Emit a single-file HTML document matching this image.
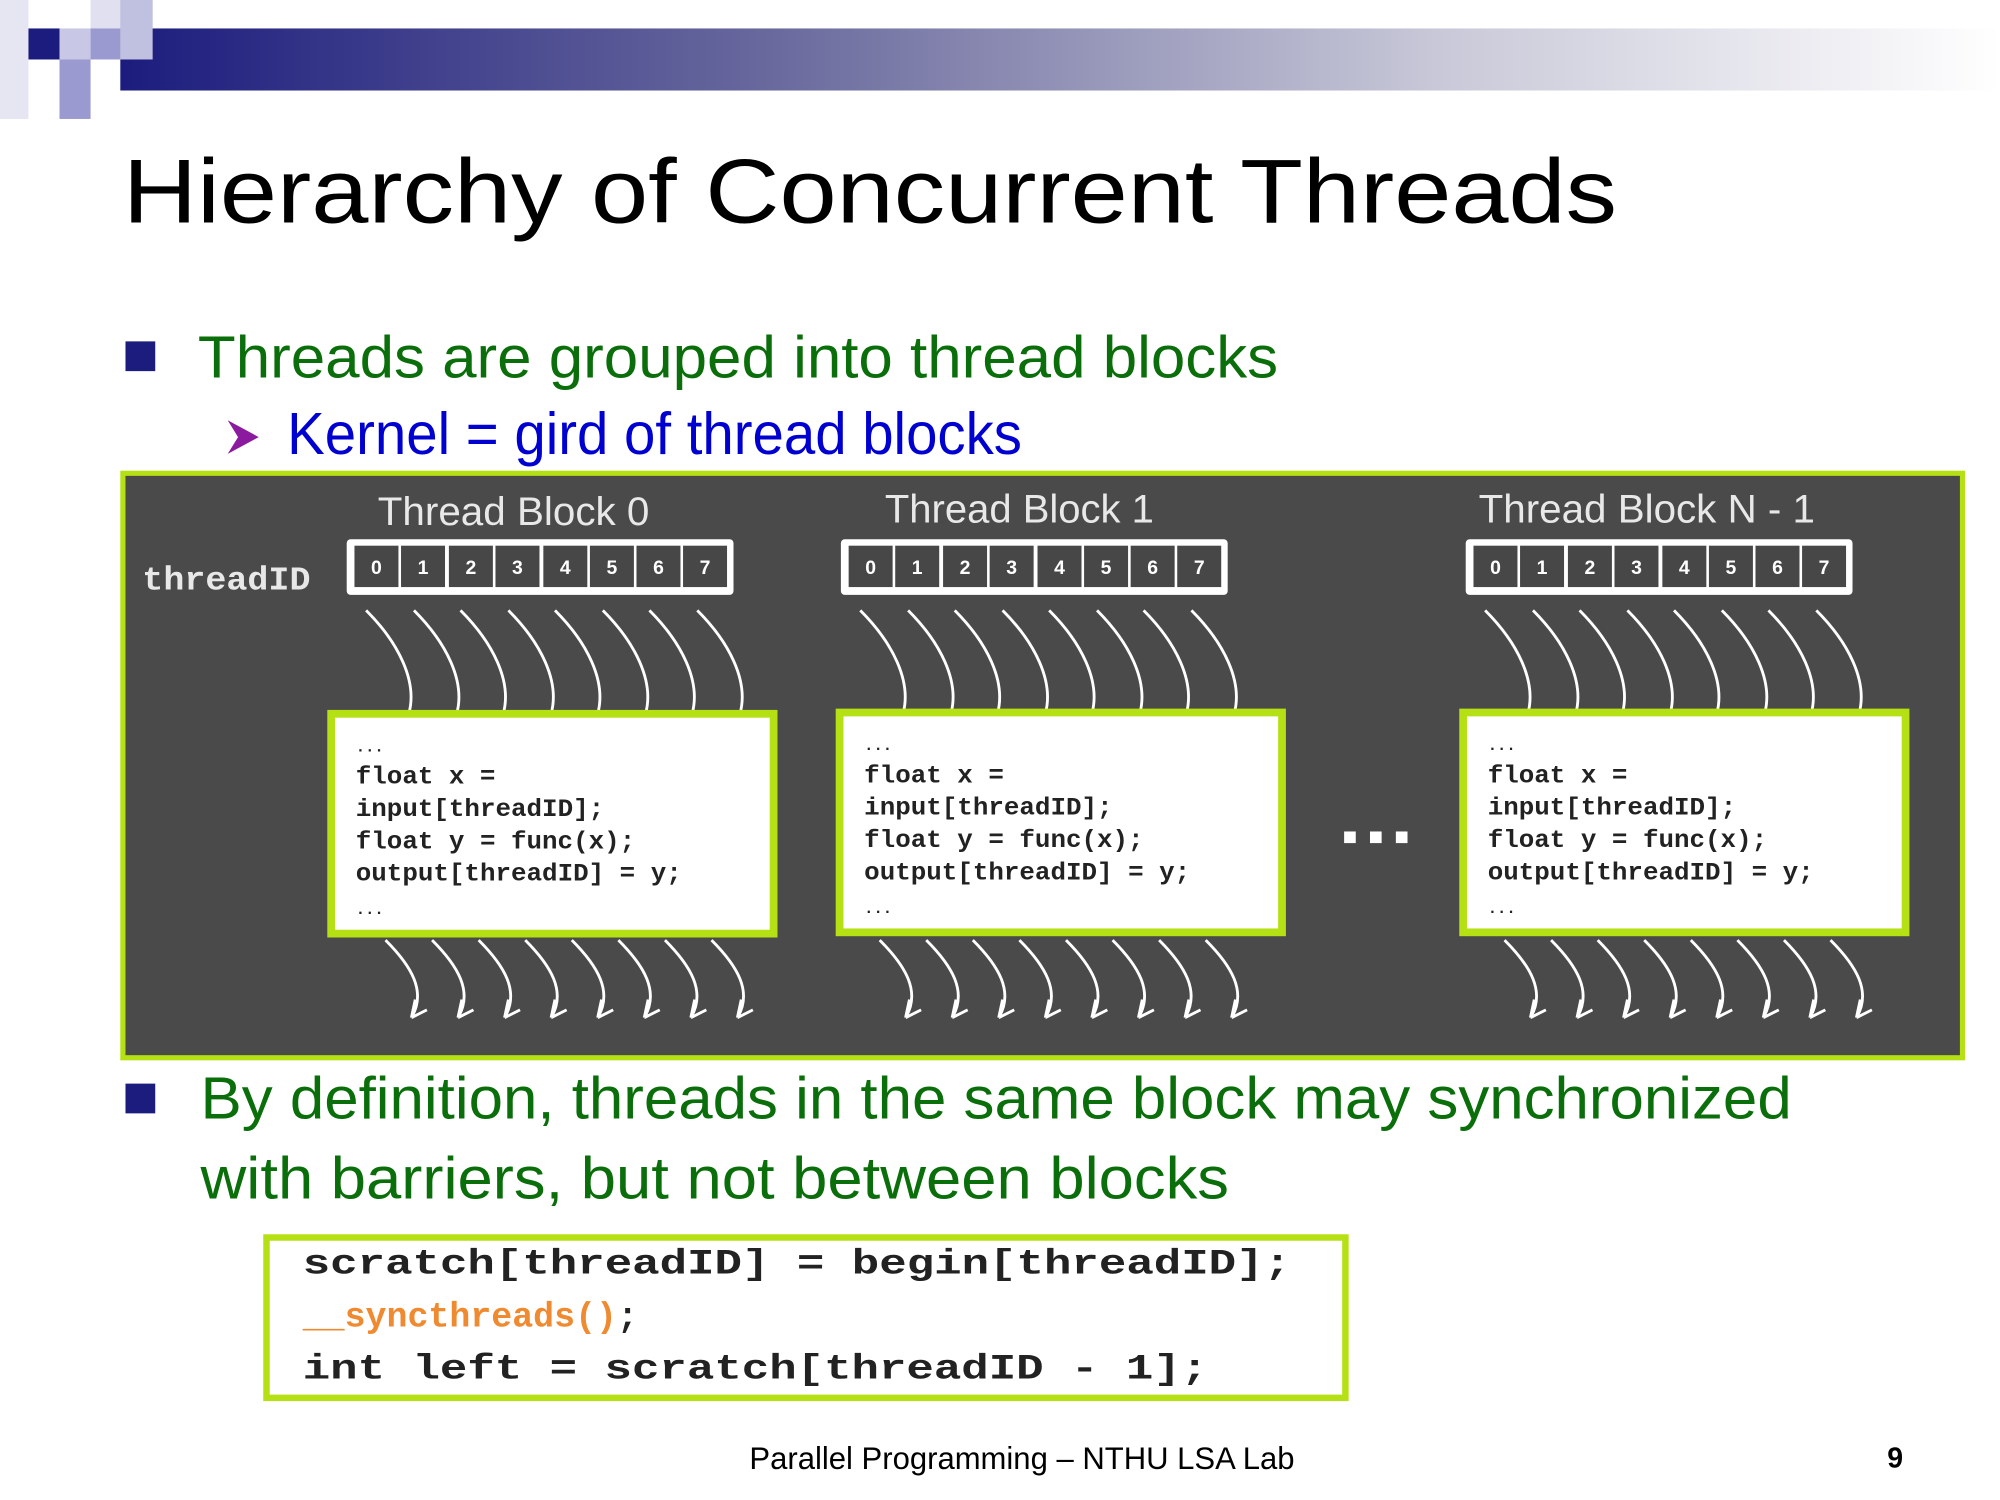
<!DOCTYPE html>
<html><head><meta charset="utf-8"><style>
html,body{margin:0;padding:0;background:#fff;width:2000px;height:1500px;overflow:hidden}
svg{display:block}
</style></head><body>
<svg width="2000" height="1500" viewBox="0 0 1546 1160" preserveAspectRatio="none" xmlns="http://www.w3.org/2000/svg">
<defs>
<linearGradient id="g" x1="0" x2="1" y1="0" y2="0">
<stop offset="0" stop-color="#1c1c7e"/><stop offset="0.35" stop-color="#6a6a9e"/><stop offset="0.7" stop-color="#c8c8d8"/><stop offset="1" stop-color="#ffffff"/>
</linearGradient>
<g id="arr">
<rect x="0" y="0" width="299" height="43" rx="3" fill="#fff"/>
<g font-family="Liberation Sans, sans-serif" font-weight="bold" font-size="15" fill="#fff" text-anchor="middle">
<rect x="6" y="5" width="34" height="32" fill="#474747"/><text x="23" y="27">0</text>
<rect x="42" y="5" width="34" height="32" fill="#474747"/><text x="59" y="27">1</text>
<rect x="79" y="5" width="34" height="32" fill="#474747"/><text x="96" y="27">2</text>
<rect x="115" y="5" width="34" height="32" fill="#474747"/><text x="132" y="27">3</text>
<rect x="152" y="5" width="34" height="32" fill="#474747"/><text x="169" y="27">4</text>
<rect x="188" y="5" width="34" height="32" fill="#474747"/><text x="205" y="27">5</text>
<rect x="224" y="5" width="34" height="32" fill="#474747"/><text x="241" y="27">6</text>
<rect x="260" y="5" width="34" height="32" fill="#474747"/><text x="277" y="27">7</text>
</g>
<g fill="none" stroke="#fff" stroke-width="2.2">
<path d="M15 55 C40 80,55 110,48 135"/>
<path d="M52 55 C77 80,92 110,85 135"/>
<path d="M88 55 C113 80,128 110,121 135"/>
<path d="M125 55 C150 80,165 110,158 135"/>
<path d="M161 55 C186 80,201 110,194 135"/>
<path d="M198 55 C223 80,238 110,231 135"/>
<path d="M234 55 C259 80,274 110,267 135"/>
<path d="M271 55 C296 80,311 110,304 135"/>
</g>
<g fill="none" stroke="#fff" stroke-width="2.2">
<path d="M30 310 C50 330,62 350,50 370 M50 370 l3 -14 M50 370 l12 -6"/>
<path d="M66 310 C86 330,98 350,86 370 M86 370 l3 -14 M86 370 l12 -6"/>
<path d="M102 310 C122 330,134 350,122 370 M122 370 l3 -14 M122 370 l12 -6"/>
<path d="M138 310 C158 330,170 350,158 370 M158 370 l3 -14 M158 370 l12 -6"/>
<path d="M174 310 C194 330,206 350,194 370 M194 370 l3 -14 M194 370 l12 -6"/>
<path d="M210 310 C230 330,242 350,230 370 M230 370 l3 -14 M230 370 l12 -6"/>
<path d="M246 310 C266 330,278 350,266 370 M266 370 l3 -14 M266 370 l12 -6"/>
<path d="M282 310 C302 330,314 350,302 370 M302 370 l3 -14 M302 370 l12 -6"/>
</g>
</g>
<g id="code">
<rect x="3" y="3" width="342" height="170" fill="#fff" stroke="#b4e014" stroke-width="6"/>
<g font-family="Liberation Mono, monospace" font-weight="bold" font-size="19.5" fill="#222">
<text x="22" y="32" font-size="12">...</text>
<text x="22" y="57" textLength="108" lengthAdjust="spacingAndGlyphs">float x =</text>
<text x="22" y="82" textLength="192" lengthAdjust="spacingAndGlyphs">input[threadID];</text>
<text x="22" y="107" textLength="216" lengthAdjust="spacingAndGlyphs">float y = func(x);</text>
<text x="22" y="132" textLength="252" lengthAdjust="spacingAndGlyphs">output[threadID] = y;</text>
<text x="22" y="158" font-size="12">...</text>
</g>
</g>
</defs>
<rect x="0" y="0" width="22" height="92" fill="#e6e6f2"/>
<rect x="70" y="0" width="48" height="22" fill="#e0e0f0"/>
<rect x="93" y="22" width="1453" height="48" fill="url(#g)"/>
<rect x="22" y="22" width="24" height="24" fill="#1c1c7e"/>
<rect x="46" y="22" width="24" height="24" fill="#c8c8e6"/>
<rect x="70" y="22" width="23" height="24" fill="#9a9ad0"/>
<rect x="93" y="0" width="25" height="46" fill="#c0c0e0"/>
<rect x="46" y="46" width="24" height="46" fill="#9a9ad0"/>
<text x="95" y="172" font-family="Liberation Sans, sans-serif" font-size="70" fill="#000" textLength="1155" lengthAdjust="spacingAndGlyphs">Hierarchy of Concurrent Threads</text>
<rect x="97" y="264" width="23" height="23" fill="#1c1c7e"/>
<text x="153" y="292" font-family="Liberation Sans, sans-serif" font-size="46" fill="#0a6e0a" textLength="835" lengthAdjust="spacingAndGlyphs">Threads are grouped into thread blocks</text>
<path d="M176 325 L200 338 L176 351 L184 338 Z" fill="#8b1a9e"/>
<text x="222" y="351" font-family="Liberation Sans, sans-serif" font-size="46" fill="#0000d0" textLength="568" lengthAdjust="spacingAndGlyphs">Kernel = gird of thread blocks</text>
<rect x="95" y="366" width="1422" height="452" fill="#4a4a4a" stroke="#b4e014" stroke-width="4"/>
<g font-family="Liberation Sans, sans-serif" font-size="31" fill="#e8e8e8">
<text x="292" y="406" textLength="210" lengthAdjust="spacingAndGlyphs">Thread Block 0</text>
<text x="684" y="404" textLength="208" lengthAdjust="spacingAndGlyphs">Thread Block 1</text>
<text x="1143" y="404" textLength="260" lengthAdjust="spacingAndGlyphs">Thread Block N - 1</text>
</g>
<text x="110" y="456" font-family="Liberation Mono, monospace" font-weight="bold" font-size="26" fill="#e8e8e8" textLength="130" lengthAdjust="spacingAndGlyphs">threadID</text>
<use href="#arr" x="268" y="417"/>
<use href="#arr" x="650" y="417"/>
<use href="#arr" x="1133" y="417"/>
<use href="#code" x="253" y="549"/>
<use href="#code" x="646" y="548"/>
<use href="#code" x="1128" y="548"/>
<rect x="1039" y="643" width="9" height="9" fill="#fff"/>
<rect x="1059" y="643" width="9" height="9" fill="#fff"/>
<rect x="1079" y="643" width="9" height="9" fill="#fff"/>
<rect x="97" y="838" width="23" height="23" fill="#1c1c7e"/>
<g font-family="Liberation Sans, sans-serif" font-size="46" fill="#0a6e0a">
<text x="155" y="865" textLength="1230" lengthAdjust="spacingAndGlyphs">By definition, threads in the same block may synchronized</text>
<text x="155" y="927" textLength="795" lengthAdjust="spacingAndGlyphs">with barriers, but not between blocks</text>
</g>
<rect x="206" y="957" width="834" height="124" fill="#fff" stroke="#b4e014" stroke-width="5"/>
<g font-family="Liberation Mono, monospace" font-weight="bold" font-size="27" fill="#222">
<text x="234" y="985" textLength="764" lengthAdjust="spacingAndGlyphs">scratch[threadID] = begin[threadID];</text>
<text x="234" y="1026"><tspan fill="#f08a30">__syncthreads()</tspan>;</text>
<text x="234" y="1066" textLength="700" lengthAdjust="spacingAndGlyphs">int left = scratch[threadID - 1];</text>
</g>
<text x="790" y="1136" text-anchor="middle" font-family="Liberation Sans, sans-serif" font-size="24" fill="#000">Parallel Programming – NTHU LSA Lab</text>
<text x="1465" y="1135" text-anchor="middle" font-family="Liberation Sans, sans-serif" font-weight="bold" font-size="22" fill="#000">9</text>
</svg>
</body></html>
